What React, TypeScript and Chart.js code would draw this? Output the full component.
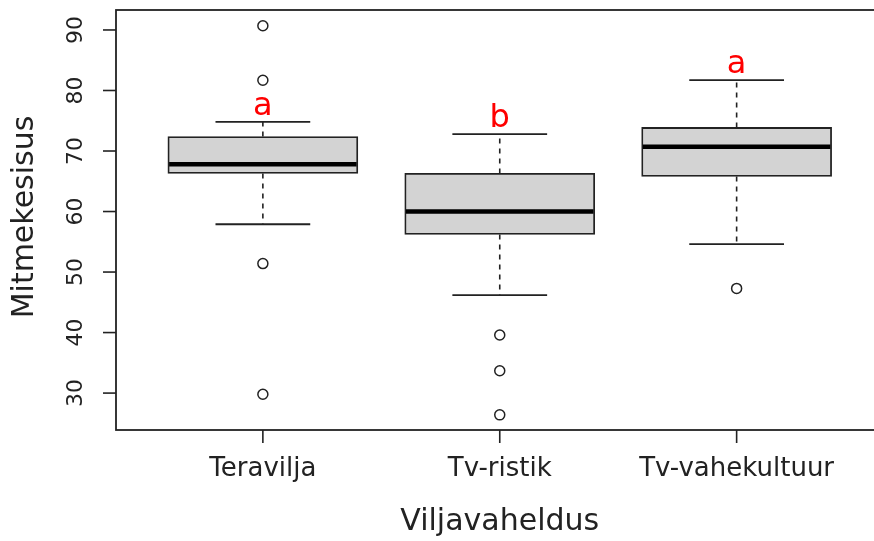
import React, { useEffect, useRef } from "react";
import { Chart, registerables } from "chart.js";

Chart.register(...registerables);

const categories = ["Teravilja", "Tv-ristik", "Tv-vahekultuur"];
const positions = [1, 2, 3];
const q1 = [66.3, 56.2, 65.8];
const q3 = [72.4, 66.3, 73.9];
const medians = [67.8, 60.0, 70.7];
const whiskerLow = [57.9, 46.2, 54.6];
const whiskerHigh = [74.8, 72.8, 81.7];
const outliersTeravilja = [90.7, 81.7, 51.4, 29.8];
const outliersTvRistik = [39.6, 33.7, 26.4];
const outliersTvVahekultuur = [47.3];
const groupLetters = ["a", "b", "a"];
const yTicks = [30, 40, 50, 60, 70, 80, 90];
const xTitle = "Viljavaheldus";
const yTitle = "Mitmekesisus";

const FONT = "'DejaVu Sans', Verdana, sans-serif";
const INK = "#222222";

const boxPlugin = {
  id: "boxExtras",
  afterDatasetsDraw(chart: any) {
    const { ctx, chartArea, scales } = chart;
    const xs = scales.x;
    const ys = scales.y;
    const unit = xs.getPixelForValue(2) - xs.getPixelForValue(1);
    const capHalf = unit * 0.2;
    const boxHalf = unit * 0.4;
    ctx.save();
    positions.forEach((p, i) => {
      const cx = xs.getPixelForValue(p);
      ctx.strokeStyle = INK;
      ctx.lineWidth = 1.6;
      ctx.setLineDash([5, 5]);
      ctx.beginPath();
      ctx.moveTo(cx, ys.getPixelForValue(q3[i]));
      ctx.lineTo(cx, ys.getPixelForValue(whiskerHigh[i]));
      ctx.moveTo(cx, ys.getPixelForValue(q1[i]));
      ctx.lineTo(cx, ys.getPixelForValue(whiskerLow[i]));
      ctx.stroke();
      ctx.setLineDash([]);
      ctx.lineWidth = 1.8;
      ctx.beginPath();
      const yh = ys.getPixelForValue(whiskerHigh[i]);
      const yl = ys.getPixelForValue(whiskerLow[i]);
      ctx.moveTo(cx - capHalf, yh);
      ctx.lineTo(cx + capHalf, yh);
      ctx.moveTo(cx - capHalf, yl);
      ctx.lineTo(cx + capHalf, yl);
      ctx.stroke();
      ctx.strokeStyle = "#000";
      ctx.lineWidth = 4.5;
      ctx.beginPath();
      const ym = ys.getPixelForValue(medians[i]);
      ctx.moveTo(cx - boxHalf + 1, ym);
      ctx.lineTo(cx + boxHalf - 1, ym);
      ctx.stroke();
      ctx.fillStyle = "#ff0000";
      ctx.font = `32px ${FONT}`;
      ctx.textAlign = "center";
      ctx.textBaseline = "alphabetic";
      ctx.fillText(groupLetters[i], cx, yh - 7);
    });

    ctx.strokeStyle = INK;
    ctx.lineWidth = 1.8;
    ctx.strokeRect(chartArea.left, chartArea.top, chartArea.right - chartArea.left, chartArea.bottom - chartArea.top);

    ctx.fillStyle = INK;
    ctx.lineWidth = 1.6;
    ctx.font = `22px ${FONT}`;
    yTicks.forEach((t) => {
      const y = ys.getPixelForValue(t);
      ctx.beginPath();
      ctx.moveTo(chartArea.left - 13, y);
      ctx.lineTo(chartArea.left, y);
      ctx.stroke();
      ctx.save();
      ctx.translate(chartArea.left - 40, y);
      ctx.rotate(-Math.PI / 2);
      ctx.textAlign = "center";
      ctx.textBaseline = "middle";
      ctx.fillText(String(t), 0, 0);
      ctx.restore();
    });

    ctx.font = `26px ${FONT}`;
    positions.forEach((p, i) => {
      const x = xs.getPixelForValue(p);
      ctx.beginPath();
      ctx.moveTo(x, chartArea.bottom);
      ctx.lineTo(x, chartArea.bottom + 13);
      ctx.stroke();
      ctx.textAlign = "center";
      ctx.textBaseline = "middle";
      ctx.fillText(categories[i], x, chartArea.bottom + 39);
    });

    ctx.font = `30px ${FONT}`;
    ctx.textAlign = "center";
    ctx.textBaseline = "middle";
    ctx.fillText(xTitle, (chartArea.left + chartArea.right) / 2, chartArea.bottom + 92);
    ctx.save();
    ctx.translate(25, (chartArea.top + chartArea.bottom) / 2 - 3);
    ctx.rotate(-Math.PI / 2);
    ctx.fillText(yTitle, 0, 0);
    ctx.restore();
    ctx.restore();
  },
};

export default function App() {
  const ref = useRef<HTMLCanvasElement | null>(null);
  useEffect(() => {
    document.body.style.margin = "0";
    const canvas = ref.current;
    if (!canvas) return;
    const outlierPoints = [
      ...outliersTeravilja.map((v) => ({ x: positions[0], y: v })),
      ...outliersTvRistik.map((v) => ({ x: positions[1], y: v })),
      ...outliersTvVahekultuur.map((v) => ({ x: positions[2], y: v })),
    ];
    const chart = new Chart(canvas, {
      type: "bar",
      data: {
        datasets: [
          {
            type: "bar",
            data: positions.map((p, i) => ({ x: p, y: [q1[i], q3[i]] })) as any,
            backgroundColor: "#d3d3d3",
            borderColor: INK,
            borderWidth: 1.8,
            borderSkipped: false,
            barThickness: 190,
            grouped: false,
            order: 2,
          } as any,
          {
            type: "scatter",
            data: outlierPoints,
            pointStyle: "circle",
            pointRadius: 5,
            pointBorderWidth: 1.5,
            pointBorderColor: INK,
            pointBackgroundColor: "rgba(0,0,0,0)",
            showLine: false,
            order: 1,
          } as any,
        ],
      },
      options: {
        responsive: false,
        animation: false,
        devicePixelRatio: window.devicePixelRatio || 1,
        layout: { padding: { left: 116, top: 10, right: 6, bottom: 111 } },
        plugins: { legend: { display: false }, tooltip: { enabled: false } },
        scales: {
          x: { type: "linear", min: 0.38, max: 3.62, offset: false, display: false },
          y: { type: "linear", min: 23.9, max: 93.3, display: false },
        },
      },
      plugins: [boxPlugin],
    });
    return () => chart.destroy();
  }, []);
  return (
    <div style={{ width: 874, height: 541, overflow: "hidden", background: "#fff" }}>
      <canvas ref={ref} width={890} height={541} style={{ width: 890, height: 541, display: "block" }} />
    </div>
  );
}
